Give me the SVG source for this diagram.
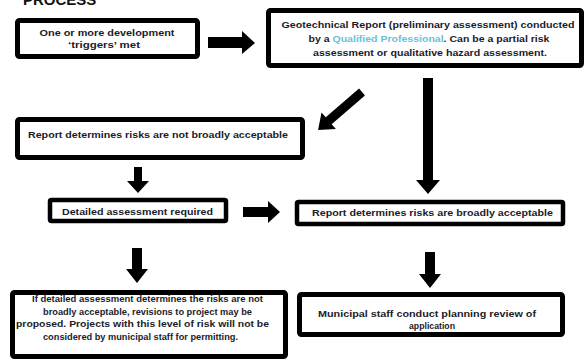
<svg xmlns="http://www.w3.org/2000/svg" width="586" height="361" viewBox="0 0 586 361">
  <style>
    .box { fill: #ffffff; stroke: #000000; stroke-width: 5; }
    .thin { stroke-width: 4.5; }
    .label { font-family: "Liberation Sans", Arial, sans-serif; font-weight: bold; font-size: 9.5px; fill: #1b1b2a; text-anchor: middle; }
    .title { font-family: "Liberation Sans", Arial, sans-serif; font-weight: bold; font-size: 15px; fill: #111111; }
    .qp { fill: #6cc0dc; }
    .arrow { fill: #000000; }
  </style>
  <defs>
    <!-- right-pointing block arrow, 58 long, origin at tail centre -->
    <polygon id="diagArrow" points="0,-4.5 44,-4.5 44,-11 58,0 44,11 44,4.5 0,4.5"/>
  </defs>
  <rect width="586" height="361" fill="#ffffff"/>

  <text class="title" x="23" y="5">PROCESS</text>

  <g id="connectors">
    <polygon class="arrow" points="208,37 242,37 242,31 255,43 242,54 242,48 208,48"/>
    <use href="#diagArrow" class="arrow" transform="translate(362,92) rotate(139.2)"/>
    <polygon class="arrow" points="423,78 433,78 433,180 440,180 428,194 416,180 423,180"/>
    <polygon class="arrow" points="134,167 142,167 142,181 149,181 138,193 127,181 134,181"/>
    <polygon class="arrow" points="243,207 268,207 268,201 280,212 268,223 268,217 243,217"/>
    <polygon class="arrow" points="132,248 142,248 142,269 148,269 137,283 126,269 132,269"/>
    <polygon class="arrow" points="425,252 435,252 435,274 441,274 430,288 419,274 425,274"/>
  </g>

  <g id="triggers">
    <rect class="box" x="17.5" y="20.5" width="180" height="36" rx="2"/>
    <text class="label" x="107" y="36" textLength="135" lengthAdjust="spacingAndGlyphs">One or more development</text>
    <text class="label" x="104" y="48" textLength="72" lengthAdjust="spacingAndGlyphs">‘triggers’ met</text>
  </g>

  <g id="geotech-report">
    <rect class="box" x="268.5" y="10.5" width="313" height="55" rx="2"/>
    <text class="label" x="428" y="28" textLength="293" lengthAdjust="spacingAndGlyphs">Geotechnical Report (preliminary assessment) conducted</text>
    <text class="label" x="429" y="42" textLength="241" lengthAdjust="spacingAndGlyphs">by a <tspan class="qp">Qualified Professional</tspan>. Can be a partial risk</text>
    <text class="label" x="430" y="56" textLength="234" lengthAdjust="spacingAndGlyphs">assessment or qualitative hazard assessment.</text>
  </g>

  <g id="not-acceptable">
    <rect class="box" x="17.5" y="119.5" width="285" height="38" rx="2"/>
    <text class="label" x="158" y="138" textLength="260" lengthAdjust="spacingAndGlyphs">Report determines risks are not broadly acceptable</text>
  </g>

  <g id="detailed-assessment">
    <rect class="box thin" x="50" y="200" width="176" height="21" rx="1.5"/>
    <text class="label" x="137.5" y="214.5" textLength="151" lengthAdjust="spacingAndGlyphs">Detailed assessment required</text>
  </g>

  <g id="acceptable">
    <rect class="box thin" x="297" y="202" width="266" height="22" rx="1.5"/>
    <text class="label" x="432.5" y="216" textLength="241" lengthAdjust="spacingAndGlyphs">Report determines risks are broadly acceptable</text>
  </g>

  <g id="revisions">
    <rect class="box" x="12.5" y="292.5" width="273" height="64" rx="2"/>
    <text class="label" x="147.5" y="302" textLength="231" lengthAdjust="spacingAndGlyphs">If detailed assessment determines the risks are not</text>
    <text class="label" x="147.5" y="314.5" textLength="209" lengthAdjust="spacingAndGlyphs">broadly acceptable, revisions to project may be</text>
    <text class="label" x="142.5" y="327" textLength="253" lengthAdjust="spacingAndGlyphs">proposed. Projects with this level of risk will not be</text>
    <text class="label" x="140.5" y="339.5" textLength="195" lengthAdjust="spacingAndGlyphs">considered by municipal staff for permitting.</text>
  </g>

  <g id="planning-review">
    <rect class="box" x="299.5" y="294.5" width="263" height="40" rx="2"/>
    <text class="label" x="427" y="317" textLength="218" lengthAdjust="spacingAndGlyphs">Municipal staff conduct planning review of</text>
    <text class="label" x="432" y="329" textLength="46" lengthAdjust="spacingAndGlyphs">application</text>
  </g>
</svg>
